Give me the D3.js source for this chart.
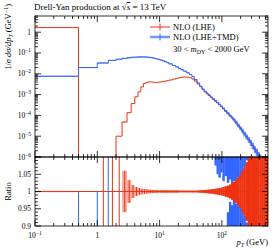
<!DOCTYPE html>
<html>
<head>
<meta charset="utf-8">
<script src="https://cdn.jsdelivr.net/npm/d3@7"></script>
<style>
  body { margin: 0; background: #fff; }
  text { font-family: "Liberation Serif", "DejaVu Serif", serif; fill: #000; }
</style>
</head>
<body>
<svg id="chart" width="276" height="250"></svg>
<script>
// bin edges in pT (GeV)
const binEdges = [0, 0.5, 1, 1.5, 2, 2.5, 3, 3.5, 4, 4.5, 5, 5.5, 6, 6.5, 7, 7.5, 8, 8.5, 9, 9.5, 10,
  11, 12, 13, 14, 16, 18, 20, 22, 24, 27, 30, 33, 36, 40, 44, 48, 52, 56, 60, 65, 70, 76, 82, 88, 95,
  102, 110, 120, 130, 140, 150, 162, 175, 190, 205, 220, 240, 260, 280, 300, 325, 350, 375, 400, 430,
  460, 500, 550];

// NLO (LHE)  1/sigma dsigma/dpT
const redValues = [1.66, 0, 5e-7, 5e-7, 1.0e-5, 4.8e-5, 1.35e-4, 3.7e-4, 7.8e-4, 1.35e-3,
  2.35e-3, 3.4e-3, 3.8e-3, 4.1e-3, 4.1e-3, 4.0e-3, 3.9e-3, 3.8e-3, 3.85e-3, 3.9e-3,
  4.05e-3, 4.25e-3, 4.45e-3, 4.7e-3, 5.0e-3, 5.5e-3, 6.0e-3, 6.45e-3, 6.75e-3, 7.0e-3,
  6.9e-3, 6.45e-3, 5.6e-3, 4.45e-3, 3.25e-3, 2.4e-3, 1.75e-3, 1.35e-3, 1.12e-3,
  9.1e-4, 7.2e-4, 5.9e-4, 4.8e-4, 4.0e-4, 3.25e-4, 2.65e-4, 2.1e-4, 1.62e-4, 1.26e-4,
  9.8e-5, 7.9e-5, 6.2e-5, 4.7e-5, 3.4e-5, 2.5e-5, 1.86e-5, 1.32e-5, 9.3e-6, 6.8e-6,
  5.0e-6, 3.5e-6, 2.4e-6, 1.74e-6, 1.26e-6, 8.9e-7, 6.6e-7, 4.7e-7, 3.2e-7];
// relative stat. errors of NLO (LHE)
const redErrors = [0.002, 0, 1.0, 1.0, 0.5, 0.06, 0.033, 0.019, 0.013, 0.01,
  0.008, 0.007, 0.006, 0.0055, 0.005, 0.0045, 0.004, 0.004, 0.0035, 0.0035,
  0.003, 0.003, 0.003, 0.003, 0.003, 0.003, 0.003,
  0.0025, 0.0025, 0.0025, 0.0025, 0.0025, 0.0025, 0.0025,
  0.003, 0.0035, 0.004, 0.0045, 0.005,
  0.0055, 0.006, 0.007, 0.008, 0.009, 0.01, 0.011, 0.013, 0.015, 0.017,
  0.02, 0.024, 0.028, 0.033, 0.04, 0.048, 0.058, 0.07, 0.085, 0.1,
  0.12, 0.14, 0.17, 0.2, 0.24, 0.28, 0.33, 0.4, 0.5];

// NLO (LHE+TMD)
const blueValues = [7.6e-3, 2.0e-2, 3.3e-2, 4.4e-2, 5.0e-2, 5.5e-2, 5.9e-2, 6.2e-2, 6.3e-2, 6.45e-2,
  6.45e-2, 6.45e-2, 6.3e-2, 6.2e-2, 6.0e-2, 5.9e-2, 5.6e-2, 5.4e-2, 5.1e-2, 4.9e-2,
  4.6e-2, 4.2e-2, 3.8e-2, 3.45e-2, 3.0e-2, 2.5e-2, 2.15e-2, 1.82e-2, 1.58e-2, 1.35e-2,
  1.12e-2, 9.3e-3, 7.4e-3, 5.2e-3, 3.55e-3, 2.5e-3, 1.82e-3, 1.4e-3, 1.17e-3,
  9.7e-4, 7.7e-4, 6.3e-4, 5.1e-4, 4.2e-4, 3.4e-4, 2.75e-4, 2.17e-4, 1.66e-4, 1.28e-4,
  9.9e-5, 8.0e-5, 6.3e-5, 4.7e-5, 3.4e-5, 2.5e-5, 1.9e-5, 1.33e-5, 9.5e-6, 6.9e-6,
  5.0e-6, 3.6e-6, 2.4e-6, 1.8e-6, 1.25e-6, 9.0e-7, 6.5e-7, 4.8e-7, 3.2e-7];
const blueErrors = [0.06, 0.06, 0.06, 0.06, 0.06, 0.06, 0.06, 0.06, 0.06, 0.06,
  0.06, 0.06, 0.06, 0.06, 0.06, 0.06, 0.06, 0.06, 0.06, 0.06,
  0.05, 0.05, 0.05, 0.05, 0.05, 0.05, 0.05, 0.05, 0.05, 0.05,
  0.05, 0.05, 0.05, 0.05, 0.05, 0.05, 0.05, 0.05, 0.05,
  0.04, 0.045, 0.05, 0.06, 0.07, 0.08, 0.09, 0.1, 0.11, 0.12, 0.13, 0.14,
  0.16, 0.18, 0.2, 0.22, 0.24, 0.26, 0.28, 0.3, 0.32, 0.34, 0.36, 0.38, 0.4,
  0.42, 0.44, 0.46, 0.48];

// ratio panel, NLO (LHE+TMD) / NLO (LHE): spread above and below 1 at high pT
const blueUpperEdges = [76, 82, 88, 95, 102, 110, 120, 130, 140, 150, 162, 175, 190, 205, 220, 240, 260];
const blueUpperLow = [1.075, 1.05, 1.04, 1.055, 1.03, 1.045, 1.025, 1.035, 1.02, 1.03, 1.025, 1.04, 1.035, 1.05, 1.07, 1.09];
const blueLowerEdges = [120, 130, 140, 150, 162, 175, 190, 205, 220, 240, 260];
const blueLowerHigh = [0.94, 0.97, 0.96, 0.975, 0.965, 0.97, 0.96, 0.95, 0.93, 0.91];
// isolated blue ratio error bars: [pT, low, high]
const blueRatioBars = [[0.5, 0.85, 1.0], [1.0, 0.85, 1.0], [1.5, 0.85, 1.15]];

const xTickLabels = [[0.1, "10", "\u22121"], [1, "1", ""], [10, "10", "1"], [100, "10", "2"]];
const yTickLabels = [[1, "1", ""], [1e-1, "10", "\u22121"], [1e-2, "10", "\u22122"], [1e-3, "10", "\u22123"],
  [1e-4, "10", "\u22124"], [1e-5, "10", "\u22125"], [1e-6, "10", "\u22126"]];
const ratioTickLabels = ["1.05", "1", "0.95", "0.9"];

const RED = "#ee3311", BLUE = "#3366ff";
const pLeft = 35, pRight = 268, pTop = 16, pMid = 157, pBottom = 226;

const svg = d3.select("#chart");

const x = d3.scaleLog().domain([0.1, 550]).range([pLeft, pRight]);
const y = d3.scaleLog().domain([1e-6, 6]).range([pMid, pTop]);
const yr = d3.scaleLinear().domain([0.9, 1.1]).range([pBottom, pMid]);

const defs = svg.append("defs");
defs.append("clipPath").attr("id", "clipMain")
  .append("rect").attr("x", pLeft).attr("y", pTop).attr("width", pRight - pLeft).attr("height", pMid - pTop);
defs.append("clipPath").attr("id", "clipRatio")
  .append("rect").attr("x", pLeft).attr("y", pMid).attr("width", pRight - pLeft).attr("height", pBottom - pMid);

const px = v => x(Math.max(v, 0.05));
const py = v => (v > 0 ? y(v) : pMid + 30);

const bins = d3.range(binEdges.length - 1).map(i => ({
  lo: binEdges[i], hi: binEdges[i + 1], mid: (binEdges[i] + binEdges[i + 1]) / 2,
  red: redValues[i], redErr: redErrors[i], blue: blueValues[i], blueErr: blueErrors[i]
}));

function stepPath(key) {
  const pts = bins.map(b => [b.lo, b[key]]);
  pts.push([bins[bins.length - 1].hi, bins[bins.length - 1][key]]);
  return d3.line().curve(d3.curveStepAfter).x(d => px(d[0])).y(d => py(d[1]))(pts);
}

// ---- main panel
const main = svg.append("g").attr("clip-path", "url(#clipMain)");

function band(key, errKey, color, opacity, minPt) {
  main.append("g").selectAll("rect")
    .data(bins.filter(b => b[key] > 0 && (b.lo >= minPt || b[errKey] < 0.1))).join("rect")
    .attr("x", b => px(b.lo))
    .attr("width", b => px(b.hi) - px(b.lo) + 0.3)
    .attr("y", b => py(b[key] * (1 + b[errKey])))
    .attr("height", b => py(b[key] * (1 - b[errKey])) - py(b[key] * (1 + b[errKey])))
    .attr("fill", color).attr("fill-opacity", opacity);
}
band("red", "redErr", RED, 0.3, 10);

main.append("path").attr("d", stepPath("red"))
  .attr("fill", "none").attr("stroke", RED).attr("stroke-width", 1);
band("blue", "blueErr", BLUE, 0.7, 0);
main.append("path").attr("d", stepPath("blue"))
  .attr("fill", "none").attr("stroke", BLUE).attr("stroke-width", 1);

// ---- ratio panel
const ratio = svg.append("g").attr("clip-path", "url(#clipRatio)");

ratio.append("g").selectAll("rect").data(blueUpperLow).join("rect")
  .attr("x", (d, i) => x(blueUpperEdges[i]))
  .attr("width", (d, i) => x(blueUpperEdges[i + 1]) - x(blueUpperEdges[i]) + 0.3)
  .attr("y", yr(1.1) - 2)
  .attr("height", d => yr(d) - yr(1.1) + 2)
  .attr("fill", BLUE);
ratio.append("g").selectAll("rect").data(blueLowerHigh).join("rect")
  .attr("x", (d, i) => x(blueLowerEdges[i]))
  .attr("width", (d, i) => x(blueLowerEdges[i + 1]) - x(blueLowerEdges[i]) + 0.3)
  .attr("y", d => yr(d))
  .attr("height", d => yr(0.9) - yr(d) + 2)
  .attr("fill", BLUE);

// below DENSE_PT the bins are wide: light band, no band for empty-ish bins
const DENSE_PT = 10;
const redRatioBins = bins.filter(b => b.red > 0 && b.redErr > 0);
ratio.append("g").selectAll("rect")
  .data(redRatioBins.filter(b => b.lo >= DENSE_PT || b.redErr < 0.1)).join("rect")
  .attr("x", b => px(b.lo))
  .attr("width", b => px(b.hi) - px(b.lo) + (b.lo >= DENSE_PT ? 0.3 : 0))
  .attr("y", b => yr(1 + b.redErr))
  .attr("height", b => yr(1 - b.redErr) - yr(1 + b.redErr))
  .attr("fill", RED).attr("fill-opacity", b => (b.lo < DENSE_PT ? 0.4 : 1));
ratio.append("g").selectAll("line").data(redRatioBins.filter(b => b.lo > 0)).join("line")
  .attr("x1", b => x(b.mid)).attr("x2", b => x(b.mid))
  .attr("y1", b => yr(1 + b.redErr)).attr("y2", b => yr(1 - b.redErr))
  .attr("stroke", RED).attr("stroke-width", 1);
ratio.append("line")
  .attr("x1", pLeft).attr("x2", pRight).attr("y1", yr(1)).attr("y2", yr(1))
  .attr("stroke", RED).attr("stroke-width", 1);
ratio.append("g").selectAll("line").data(blueRatioBars).join("line")
  .attr("x1", d => x(d[0])).attr("x2", d => x(d[0]))
  .attr("y1", d => yr(d[2])).attr("y2", d => yr(d[1]))
  .attr("stroke", BLUE).attr("stroke-width", 1);

// ---- frames and ticks
const axes = svg.append("g").attr("stroke", "#000").attr("stroke-width", 0.8);
[[pTop, pMid], [pMid, pBottom]].forEach(([t, b]) => {
  axes.append("rect").attr("x", pLeft).attr("y", t).attr("width", pRight - pLeft).attr("height", b - t)
    .attr("fill", "none");
});

const isDecade = v => Math.abs(Math.log10(v) - Math.round(Math.log10(v))) < 1e-6;

x.ticks().forEach(v => {
  const len = isDecade(v) ? 6 : 3;
  const xx = x(v);
  [[pTop, 1], [pMid, -1], [pMid, 1], [pBottom, -1]].forEach(([yy, dir]) => {
    axes.append("line").attr("x1", xx).attr("x2", xx).attr("y1", yy).attr("y2", yy + dir * len);
  });
});
y.ticks().forEach(v => {
  const len = isDecade(v) ? 6 : 3;
  const yy = y(v);
  axes.append("line").attr("x1", pLeft).attr("x2", pLeft + len).attr("y1", yy).attr("y2", yy);
  axes.append("line").attr("x1", pRight).attr("x2", pRight - len).attr("y1", yy).attr("y2", yy);
});
yr.ticks(20).forEach(v => {
  const major = Math.abs(v * 20 - Math.round(v * 20)) < 1e-6;
  const len = major ? 6 : 3;
  const yy = yr(v);
  axes.append("line").attr("x1", pLeft).attr("x2", pLeft + len).attr("y1", yy).attr("y2", yy);
  axes.append("line").attr("x1", pRight).attr("x2", pRight - len).attr("y1", yy).attr("y2", yy);
});

// tick labels
function powLabel(g, base, sup) {
  g.append("tspan").text(base);
  if (sup) g.append("tspan").attr("dy", -3).attr("font-size", 5.5).text(sup);
}
xTickLabels.forEach(([v, base, sup]) => {
  const t = svg.append("text").attr("x", x(v)).attr("y", 237.5)
    .attr("text-anchor", "middle").attr("font-size", 7.5);
  powLabel(t, base, sup);
});
yTickLabels.forEach(([v, base, sup]) => {
  const t = svg.append("text").attr("x", 31).attr("y", y(v) + 2.5)
    .attr("text-anchor", "end").attr("font-size", 7.5);
  powLabel(t, base, sup);
});
ratioTickLabels.forEach(s => {
  svg.append("text").attr("x", 31).attr("y", yr(+s) + 2.5)
    .attr("text-anchor", "end").attr("font-size", 7.5).text(s);
});

// titles
const title = svg.append("text").attr("x", 34).attr("y", 10).attr("font-size", 9);
title.append("tspan").text("Drell-Yan production at \u221A");
title.append("tspan").attr("text-decoration", "overline").attr("font-style", "italic").text("s");
title.append("tspan").text(" = 13 TeV");

const yl = svg.append("text").attr("transform", "translate(11,4) rotate(-90)")
  .attr("text-anchor", "end").attr("font-size", 8.5);
yl.append("tspan").text("1/");
yl.append("tspan").attr("font-style", "italic").text("\u03C3 d\u03C3/dp");
yl.append("tspan").attr("font-style", "italic").attr("font-size", 6).attr("dy", 1.5).text("T");
yl.append("tspan").attr("dy", -1.5).text(" (GeV");
yl.append("tspan").attr("font-size", 6).attr("dy", -3).text("\u22121");
yl.append("tspan").attr("dy", 3).text(")");

svg.append("text").attr("transform", `translate(11,${yr(1)}) rotate(-90)`)
  .attr("text-anchor", "middle").attr("font-size", 8.5).text("Ratio");

const xl = svg.append("text").attr("x", pRight).attr("y", 245)
  .attr("text-anchor", "end").attr("font-size", 8.5);
xl.append("tspan").attr("font-style", "italic").text("p");
xl.append("tspan").attr("font-style", "italic").attr("font-size", 6).attr("dy", 1.5).text("T");
xl.append("tspan").attr("dy", -1.5).text(" (GeV)");

// legend
const legend = [["NLO (LHE)", RED, 27], ["NLO (LHE+TMD)", BLUE, 37]];
legend.forEach(([label, color, ly], i) => {
  const g = svg.append("g");
  if (i === 1) g.append("rect").attr("x", 150).attr("y", ly - 1.5).attr("width", 20).attr("height", 3)
    .attr("fill", color).attr("fill-opacity", 0.35);
  g.append("line").attr("x1", 150).attr("x2", 170).attr("y1", ly).attr("y2", ly)
    .attr("stroke", color).attr("stroke-width", 1);
  g.append("line").attr("x1", 160).attr("x2", 160).attr("y1", ly - 3.5).attr("y2", ly + 3.5)
    .attr("stroke", color).attr("stroke-width", 1);
  g.append("text").attr("x", 173).attr("y", ly + 3).attr("font-size", 8.5).text(label);
});
const cut = svg.append("text").attr("x", 173).attr("y", 52).attr("font-size", 8.5);
cut.append("tspan").text("30 < ");
cut.append("tspan").attr("font-style", "italic").text("m");
cut.append("tspan").attr("font-size", 6).attr("dy", 1.5).text("DY");
cut.append("tspan").attr("dy", -1.5).text(" < 2000 GeV");
</script>
</body>
</html>
